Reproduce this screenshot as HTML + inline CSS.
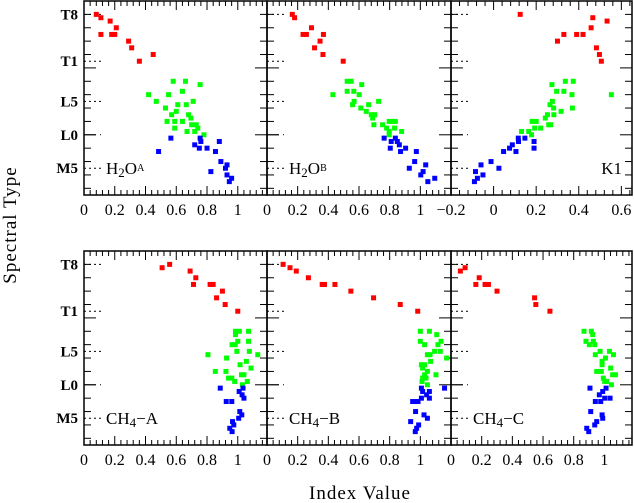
<!DOCTYPE html>
<html><head><meta charset="utf-8">
<style>
html,body{margin:0;padding:0;background:#fff;}
svg{display:block;font-family:"Liberation Serif",serif;}
</style></head>
<body>
<svg id="chart" width="634" height="503" viewBox="0 0 634 503" xmlns="http://www.w3.org/2000/svg">
<text x="16" y="225" font-size="19" text-anchor="middle" transform="rotate(-90 16 225)" letter-spacing="1">Spectral Type</text>
<text x="360" y="499" font-size="19" text-anchor="middle" letter-spacing="1">Index Value</text>
</svg>
<script>
// Spectral type numeric: M0=0, M5=5, L0=10, L5=15, T0=20, T1=21, T8=28
const typeLabels = ["T8","T1","L5","L0","M5"];
const typeLabelValues = [28,21,15,10,5];

// Panel 1: H2O-A
const h2oaRedX = [.08,.11,.17,.21,.11,.18,.20,.29,.31,.45,.36];
const h2oaRedT = [28,27.5,27,26,25,25,25,24,23,22,21];
const h2oaGreenX = [.58,.66,.755,.64,.42,.55,.47,.71,.61,.665,.53,.60,.57,.68,.54,.59,.64,.695,.70,.73,.59,.74,.67,.72,.78];
const h2oaGreenT = [18,18,17.5,16.5,16,16,15,15,14.5,14.5,14,13.5,13,13,12,12,12,12.5,11.5,11.5,11,11,10.5,10.5,10];
const h2oaBlueX = [.565,.755,.76,.72,.75,.80,.88,.855,.485,.89,.93,.92,.825,.93,.96,.945];
const h2oaBlueT = [9.5,9.5,9,8.5,8,8,9,7.5,7.5,6,5.5,5,4.5,4,3.5,3];

// Panel 2: H2O-B
const h2obRedX = [.165,.18,.29,.235,.257,.368,.346,.31,.365,.497];
const h2obRedT = [28,27.5,26,25,25,25,24,23,22,21];
const h2obGreenX = [.523,.549,.618,.523,.566,.601,.43,.568,.728,.558,.663,.612,.647,.68,.702,.689,.797,.818,.837,.697,.754,.78,.832,.797,.878,.797];
const h2obGreenT = [18,18,17.5,16.5,16.5,16,16,15,15,14.5,14.5,14,13.5,13,13,12.5,12,12,12,11.5,11.5,11,11,10.5,10.5,10];
const h2obBlueX = [.764,.837,.81,.85,.804,.863,.871,.904,.974,.963,.928,1.035,1.018,1.003,1.049,1.094];
const h2obBlueT = [9.5,9.5,9,9,8,8.5,7.5,8,7.5,6,5,5.5,4.5,4,3,3.5];

// Panel 3: K1
const k1RedX = [.125,.466,.533,.458,.33,.39,.42,.30,.483,.497,.506];
const k1RedT = [28,27.5,27,26,25,25,25,24,23,22,21];
const k1GreenX = [.274,.337,.374,.296,.33,.276,.368,.265,.282,.317,.37,.253,.243,.283,.181,.2,.193,.221,.259,.268,.131,.165,.178,.553];
const k1GreenT = [17.5,18,18,16.5,16.5,15,16,14.5,14,13.5,14,13,12.5,13,12,12,11,11,11.5,11.5,10.5,10.5,10,16];
const k1BlueX = [.116,.117,.147,.19,.19,.088,.075,.105,.047,-.012,.025,-.059,-.085,-.05,-.076,-.09];
const k1BlueT = [9.5,9,9.5,9,8,8.5,8,7.5,7.5,6,5,5.5,4.5,4,3.5,3];

// Panel 4: CH4-A
const ch4aRedX = [.508,.557,.69,.727,.712,.82,.84,.90,.862,.918,1.0];
const ch4aRedT = [27.5,28,27,26,25,25,25,24,23,22,21];
const ch4aGreenX = [.985,1.01,1.07,.985,1.0,1.07,.963,.983,.994,1.075,.806,.927,1.13,1.015,1.056,1.086,.854,.923,1.024,1.04,.94,.961,.98,1.062,1.03];
const ch4aGreenT = [18,18,18,17.5,16.5,16.5,16,16,15,15,14.5,14,14.5,13,13.5,12.5,12,12,11.5,11.5,11,11,10.5,10.5,10];
const ch4aBlueX = [.886,1.034,1.009,1.028,1.04,.925,.961,1.013,1.026,1.006,.966,.974,.948,.963];
const ch4aBlueT = [9.5,9.5,9,8.5,8,7.5,7.5,6,5.5,5,4.5,4,3.5,3];

// Panel 5: CH4-B
const ch4bRedX = [.105,.15,.191,.27,.36,.375,.443,.547,.695,.869,.983];
const ch4bRedT = [28,27.5,27,26,25,25,25,24,23,22,21];
const ch4bGreenX = [1.0,1.059,1.107,1.0,1.135,1.028,1.115,1.093,1.13,1.046,1.063,1.172,1.067,1.007,1.028,1.015,1.046,1.102,1.028,1.015,1.037,1.011,1.046];
const ch4bGreenT = [18,18,17.5,16.5,16.5,16,16,15,15,14.5,14.5,14,13.5,13,13,12.5,12,11.5,11.5,11,11,10.5,10];
const ch4bBlueX = [1.007,1.059,1.015,1.041,1.158,1.007,1.059,.95,.967,.985,.969,1.024,1.046,.937,.989,.976,.967];
const ch4bBlueT = [9.5,9,9,8.5,9.5,8,8,7.5,7.5,7.5,6,5.5,5,4.5,4,3.5,3];

// Panel 6: CH4-C
const ch4cRedX = [.061,.092,.184,.162,.222,.244,.3,.545,.553,.645];
const ch4cRedT = [27,27.5,26,25,25,25,24,23,22,21];
const ch4cGreenX = [.867,.915,.924,.88,.928,.902,.937,.972,1.033,.941,1.007,1.059,.985,.985,1.041,.95,.98,1.054,1.072,.993,1.002,1.015,1.046];
const ch4cGreenT = [18,18,17.5,16.5,16.5,16,16,15,15,14.5,14,14.5,13.5,13,12.5,12,12,11.5,11.5,11,10.5,10.5,10];
const ch4cBlueX = [.906,1.011,.989,.967,1.037,1.002,.941,.976,.911,.985,.989,.95,.937,.885,.898];
const ch4cBlueT = [9.5,9.5,9,8.5,8,8,7.5,7.5,6,5.5,5,4.5,4,3.5,3];

const tickLabelsA = ["0","0.2","0.4","0.6","0.8","1"];
const tickValuesA = [0,0.2,0.4,0.6,0.8,1];
const tickLabelsK = ["\u22120.2","0","0.2","0.4","0.6"];
const tickValuesK = [-0.2,0,0.2,0.4,0.6];

const NS = "http://www.w3.org/2000/svg";
const svg = document.getElementById("chart");
function mk(tag, attrs, parent){
  const e = document.createElementNS(NS, tag);
  for (const k in attrs) e.setAttribute(k, attrs[k]);
  (parent||svg).appendChild(e);
  return e;
}

const panels = [
  {id:"h2oa", label:"H<tspan font-size='13' dy='3'>2</tspan><tspan dy='-3'>O</tspan><tspan font-size='10' dy='-3'>A</tspan>", lx:86, x0:84, x1:267, y0:1, y1:195, xmin:0, xmax:1.19, tv:tickValuesA, tl:tickLabelsA, rx:h2oaRedX, rt:h2oaRedT, gx:h2oaGreenX, gt:h2oaGreenT, bx:h2oaBlueX, bt:h2oaBlueT, leftLabels:true},
  {id:"h2ob", label:"H<tspan font-size='13' dy='3'>2</tspan><tspan dy='-3'>O</tspan><tspan font-size='10' dy='-3'>B</tspan>", lx:269, x0:267, x1:451, y0:1, y1:195, xmin:0, xmax:1.2, tv:tickValuesA, tl:tickLabelsA, rx:h2obRedX, rt:h2obRedT, gx:h2obGreenX, gt:h2obGreenT, bx:h2obBlueX, bt:h2obBlueT},
  {id:"k1", label:"K1", right:true, x0:451, x1:632, y0:1, y1:195, xmin:-0.2, xmax:0.65, tv:tickValuesK, tl:tickLabelsK, rx:k1RedX, rt:k1RedT, gx:k1GreenX, gt:k1GreenT, bx:k1BlueX, bt:k1BlueT},
  {id:"ch4a", label:"CH<tspan font-size='13' dy='3'>4</tspan><tspan dy='-3'>\u2212A</tspan>", lx:86, x0:84, x1:267, y0:251, y1:445, xmin:0, xmax:1.19, tv:tickValuesA, tl:tickLabelsA, rx:ch4aRedX, rt:ch4aRedT, gx:ch4aGreenX, gt:ch4aGreenT, bx:ch4aBlueX, bt:ch4aBlueT, leftLabels:true},
  {id:"ch4b", label:"CH<tspan font-size='13' dy='3'>4</tspan><tspan dy='-3'>\u2212B</tspan>", lx:269, x0:267, x1:451, y0:251, y1:445, xmin:0, xmax:1.2, tv:tickValuesA, tl:tickLabelsA, rx:ch4bRedX, rt:ch4bRedT, gx:ch4bGreenX, gt:ch4bGreenT, bx:ch4bBlueX, bt:ch4bBlueT},
  {id:"ch4c", label:"CH<tspan font-size='13' dy='3'>4</tspan><tspan dy='-3'>\u2212C</tspan>", lx:453, x0:451, x1:632, y0:251, y1:445, xmin:0, xmax:1.18, tv:tickValuesA, tl:tickLabelsA, rx:ch4cRedX, rt:ch4cRedT, gx:ch4cGreenX, gt:ch4cGreenT, bx:ch4cBlueX, bt:ch4cBlueT}
];

const TMIN = 1, TMAX = 30;

panels.forEach(p => {
  const g = mk("g", {});
  
  
  const sx = v => p.x0 + (v - p.xmin) / (p.xmax - p.xmin) * (p.x1 - p.x0);
  const sy = t => p.y1 - (t - TMIN) / (TMAX - TMIN) * (p.y1 - p.y0);

  const fr = mk("rect", {x:p.x0, y:p.y0, width:p.x1-p.x0, height:p.y1-p.y0, fill:"none", stroke:"#000", "stroke-width":1.5}, g);
  
  

  const step = 0.04;
  for (let i = Math.ceil(p.xmin/step - 1e-6); i*step <= p.xmax + 1e-6; i++) {
    const v = i*step;
    const major = Math.abs(Math.round(v/0.2)*0.2 - v) < 1e-6;
    const L = major ? 9 : 5;
    const x = sx(v);
    mk("line", {x1:x, x2:x, y1:p.y1, y2:p.y1-L, stroke:"#000", "stroke-width":1}, g);
    mk("line", {x1:x, x2:x, y1:p.y0, y2:p.y0+L, stroke:"#000", "stroke-width":1}, g);
  }
  p.tv.forEach((v, i) => {
    const t = mk("text", {x:sx(v), y:p.y1+20, "font-size":16, "text-anchor":"middle"}, g);
    
    
    t.textContent = p.tl[i];
  });
  for (let t = 2; t <= 30; t += 2) {
    const major = t % 10 === 0;
    const L = major ? 12 : 7;
    const y = sy(t);
    mk("line", {x1:p.x0, x2:p.x0+L, y1:y, y2:y, stroke:"#000", "stroke-width":1}, g);
    mk("line", {x1:p.x1, x2:p.x1-L, y1:y, y2:y, stroke:"#000", "stroke-width":1}, g);
  }
  typeLabelValues.forEach(tv => {
    const y = sy(tv);
    const ln = mk("line", {x1:p.x0, x2:p.x0+17, y1:y, y2:y, stroke:"#000", "stroke-width":1, "stroke-dasharray": tv===10 ? "12,4,1,20" : "2,3"}, g);
    
    
  });
  if (p.leftLabels) {
    typeLabels.forEach((lab, i) => {
      const t = mk("text", {x:78, y:sy(typeLabelValues[i])+5, "font-size":15, "font-weight":"bold", "text-anchor":"end"}, g);
      
      
      t.textContent = lab;
    });
  }
  const lt = mk("text", {x: p.right ? p.x1-10 : p.lx + 20, y: sy(5)+6, "font-size":17, "text-anchor": p.right ? "end" : "start"}, g);
  
  
  lt.innerHTML = p.label;

  const series = [[p.rx, p.rt, "#ff0000", "t-dwarf-point"], [p.gx, p.gt, "#00ff00", "l-dwarf-point"], [p.bx, p.bt, "#0000ff", "m-dwarf-point"]];
  series.forEach(s => {
    s[0].forEach((v, i) => {
      const r = mk("rect", {x:sx(v)-2.5, y:sy(s[1][i])-2.5, width:5, height:5, fill:s[2]}, g);
      
      
    });
  });
});
</script>
</body></html>
